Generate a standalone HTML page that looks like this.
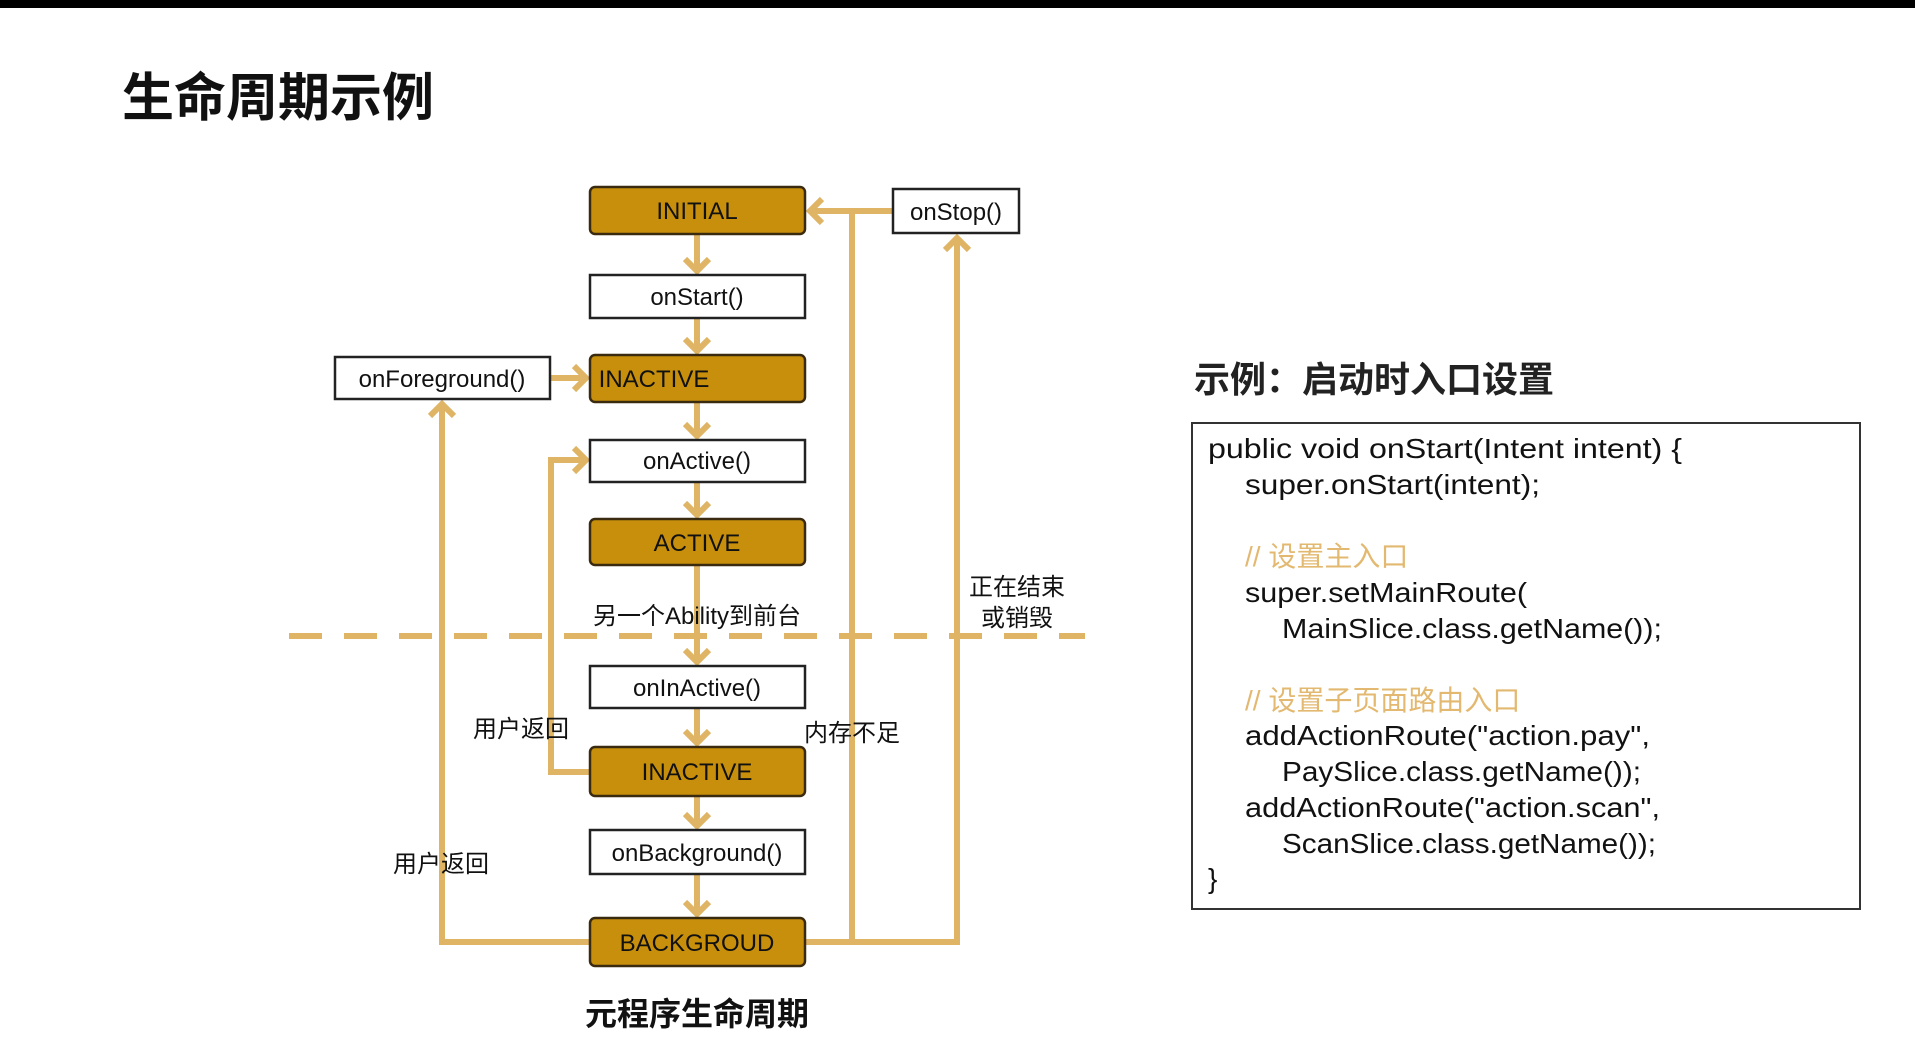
<!DOCTYPE html>
<html><head><meta charset="utf-8"><style>
html,body{margin:0;padding:0;background:#fff;}
svg{display:block;}
text{font-family:"Liberation Sans","Noto Sans CJK SC",sans-serif;}
</style></head><body>
<svg width="1915" height="1055" viewBox="0 0 1915 1055" xmlns="http://www.w3.org/2000/svg">
<rect x="0" y="0" width="1915" height="8" fill="#000"/>
<text x="122" y="116" font-size="52" font-weight="bold" fill="#111">生命周期示例</text>

<g stroke="#dfb565" stroke-width="6" fill="none" stroke-linejoin="miter">
<line x1="289" y1="636" x2="1085" y2="636" stroke-dasharray="33 22"/>
<!-- center down arrows -->
<line x1="697" y1="234" x2="697" y2="271"/><polyline points="685,259 697,271 709,259"/>
<line x1="697" y1="318" x2="697" y2="351"/><polyline points="685,339 697,351 709,339"/>
<line x1="697" y1="402" x2="697" y2="436"/><polyline points="685,424 697,436 709,424"/>
<line x1="697" y1="482" x2="697" y2="515"/><polyline points="685,503 697,515 709,503"/>
<line x1="697" y1="565" x2="697" y2="662"/><polyline points="685,650 697,662 709,650"/>
<line x1="697" y1="708" x2="697" y2="743"/><polyline points="685,731 697,743 709,731"/>
<line x1="697" y1="796" x2="697" y2="826"/><polyline points="685,814 697,826 709,814"/>
<line x1="697" y1="874" x2="697" y2="914"/><polyline points="685,902 697,914 709,902"/>
<!-- onStop to INITIAL -->
<line x1="893" y1="211" x2="810" y2="211"/><polyline points="822,199 810,211 822,223"/>
<line x1="852" y1="211" x2="852" y2="942"/>
<polyline points="805,942 957,942 957,238"/><polyline points="945,250 957,238 969,250"/>
<!-- left loop -->
<polyline points="590,942 442,942 442,404"/><polyline points="430,416 442,404 454,416"/>
<line x1="550" y1="378" x2="586" y2="378"/><polyline points="574,366 586,378 574,390"/>
<!-- inner loop -->
<polyline points="590,772 551,772 551,460 586,460"/><polyline points="574,448 586,460 574,472"/>
</g>

<g stroke="#3a2a10" stroke-width="2.5" fill="#c78f0b">
<rect x="590" y="187" width="215" height="47" rx="5"/>
<rect x="590" y="355" width="215" height="47" rx="5"/>
<rect x="590" y="519" width="215" height="46" rx="5"/>
<rect x="590" y="747" width="215" height="49" rx="5"/>
<rect x="590" y="918" width="215" height="48" rx="5"/>
</g>
<g stroke="#222" stroke-width="2.5" fill="#fff">
<rect x="590" y="275" width="215" height="43"/>
<rect x="335" y="357" width="215" height="42"/>
<rect x="590" y="440" width="215" height="42"/>
<rect x="590" y="666" width="215" height="42"/>
<rect x="590" y="830" width="215" height="44"/>
<rect x="893" y="189" width="126" height="44"/>
</g>
<g font-size="24" fill="#111" text-anchor="middle">
<text x="697" y="219">INITIAL</text>
<text x="697" y="305">onStart()</text>
<text x="654" y="387">INACTIVE</text>
<text x="442" y="387">onForeground()</text>
<text x="697" y="469">onActive()</text>
<text x="697" y="551">ACTIVE</text>
<text x="697" y="696">onInActive()</text>
<text x="697" y="780">INACTIVE</text>
<text x="697" y="861">onBackground()</text>
<text x="697" y="951">BACKGROUD</text>
<text x="956" y="220">onStop()</text>
<text x="697" y="624">另一个Ability到前台</text>
<text x="521" y="737">用户返回</text>
<text x="441" y="872">用户返回</text>
<text x="852" y="741">内存不足</text>
<text x="1017" y="595">正在结束</text>
<text x="1017" y="626">或销毁</text>
<text x="697" y="1025" font-size="32" font-weight="bold">元程序生命周期</text>
</g>

<text x="1194" y="392" font-size="36" font-weight="bold" fill="#222">示例：启动时入口设置</text>
<rect x="1192" y="423" width="668" height="486" fill="#fff" stroke="#333" stroke-width="2"/>
<g font-size="28" fill="#111" lengthAdjust="spacingAndGlyphs">
<text x="1208" y="458" textLength="474" lengthAdjust="spacingAndGlyphs">public void onStart(Intent intent) {</text>
<text x="1245" y="494" textLength="295" lengthAdjust="spacingAndGlyphs">super.onStart(intent);</text>
<text x="1245" y="566" fill="#e3b870">// 设置主入口</text>
<text x="1245" y="602" textLength="282" lengthAdjust="spacingAndGlyphs">super.setMainRoute(</text>
<text x="1282" y="638" textLength="380" lengthAdjust="spacingAndGlyphs">MainSlice.class.getName());</text>
<text x="1245" y="710" fill="#e3b870">// 设置子页面路由入口</text>
<text x="1245" y="745" textLength="405" lengthAdjust="spacingAndGlyphs">addActionRoute("action.pay",</text>
<text x="1282" y="781" textLength="359" lengthAdjust="spacingAndGlyphs">PaySlice.class.getName());</text>
<text x="1245" y="817" textLength="415" lengthAdjust="spacingAndGlyphs">addActionRoute("action.scan",</text>
<text x="1282" y="853" textLength="374" lengthAdjust="spacingAndGlyphs">ScanSlice.class.getName());</text>
<text x="1208" y="888">}</text>
</g>
</svg>
</body></html>
